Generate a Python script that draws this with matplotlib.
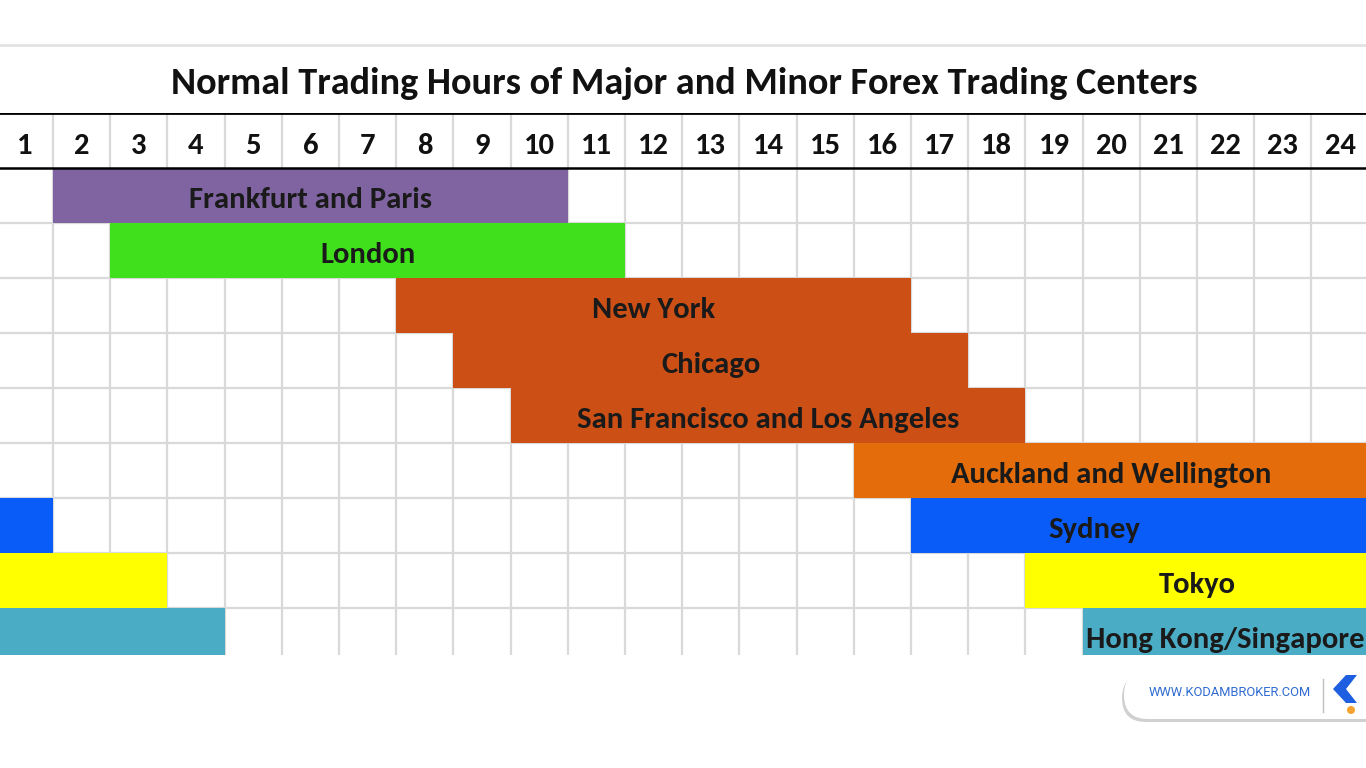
import matplotlib
matplotlib.use("Agg")
import matplotlib.pyplot as plt
from matplotlib import font_manager
from matplotlib.patches import FancyBboxPatch, Polygon, Circle

# trading centres, opening / closing hour (columns 1..24), closing may wrap past 24
centers = ["Frankfurt and Paris", "London", "New York", "Chicago",
           "San Francisco and Los Angeles", "Auckland and Wellington",
           "Sydney", "Tokyo", "Hong Kong/Singapore"]
open_hour = [1, 2, 7, 8, 9, 15, 16, 18, 19]
close_hour = [10, 11, 16, 17, 18, 24, 1, 3, 4]
colors = ["#8064A2", "#40E01C", "#CC5016", "#CC5016", "#CC5016",
          "#E46C0A", "#0A5CF8", "#FFFF00", "#4BACC6"]
hours = list(range(1, 25))
title = "Normal Trading Hours of Major and Minor Forex Trading Centers"

names = {f.name for f in font_manager.fontManager.ttflist}
font = "Liberation Sans"
for cand in ["Carlito", "Fira Sans Condensed", "Barlow Semi Condensed"]:
    if cand in names:
        font = cand
        break

W, H = 1366, 768
fig = plt.figure(figsize=(W / 100, H / 100), dpi=100)
fig.patch.set_facecolor("white")

col_w = 57.2
top, bottom, row_h = 113, 655, 55
ax = fig.add_axes([0, (H - bottom) / H, 1, (bottom - top) / H])
ax.set_xlim(1 - 53 / col_w, 1 + (W - 53) / col_w)
ax.set_ylim((bottom - top) / row_h, 0)
ax.axis("off")

# grid
for k in range(0, 25):
    ax.axvline(k, color="#D9D9D9", lw=1.6, zorder=0)
for r in range(2, 11):
    ax.axhline(r, color="#D9D9D9", lw=1.6, zorder=0)
ax.axhline(0, color="black", lw=2, zorder=3)
ax.axhline(1, color="black", lw=1.8, zorder=3)

renderer = fig.canvas.get_renderer()


def fit(t, width_px):
    w = t.get_window_extent(renderer).width
    t.set_fontsize(t.get_fontsize() * width_px / w)


# header numbers
probe = ax.text(0, 0, "24", fontsize=20, fontweight="bold", family=font)
fit(probe, 31)
hsize = probe.get_fontsize()
probe.remove()
for h in hours:
    ax.text(h - 0.5, 0.6, str(h), ha="center", va="center", fontsize=hsize,
            fontweight="bold", family=font, color="#111111")

# bars
label_shift = {"Sydney": -0.8}
lab_size = None
for i, name in enumerate(centers):
    row = i + 1
    o, c = open_hour[i], close_hour[i]
    if c > o:
        segs = [(o, c - o)]
        mid = (o + c) / 2
    else:
        segs = [(o, 24 - o), (0, c)]
        mid = (o + 24) / 2
    ax.broken_barh(segs, (row, 1), facecolors=colors[i], zorder=1)
    t = ax.text(mid + label_shift.get(name, 0), row + 0.58, name, ha="center",
                va="center", fontsize=20, fontweight="bold", family=font,
                color="#1A1A1A", zorder=4)
    if name == "San Francisco and Los Angeles":
        fit(t, 382)
        lab_size = t.get_fontsize()
for t in ax.texts[len(hours):]:
    t.set_fontsize(lab_size)

# overlay in pixel coordinates for title and watermark
ov = fig.add_axes([0, 0, 1, 1], zorder=5)
ov.set_xlim(0, W)
ov.set_ylim(H, 0)
ov.axis("off")
ov.patch.set_alpha(0)
ov.plot([0, W], [45, 45], color="#E3E3E3", lw=2)
tt = ov.text(684, 84, title, ha="center", va="center", fontsize=30,
             fontweight="bold", family=font, color="#111111")
fit(tt, 1024)

ov.add_patch(FancyBboxPatch((1122, 674), 300, 48,
                            boxstyle="round,pad=0,rounding_size=24",
                            fc="#D0D0D0", ec="none"))
ov.add_patch(FancyBboxPatch((1124, 671), 300, 48,
                            boxstyle="round,pad=0,rounding_size=24",
                            fc="white", ec="none"))
wt = ov.text(1229.5, 693, "WWW.KODAMBROKER.COM", ha="center", va="center",
             fontsize=9, family="Roboto", color="#2F6BD0")
fit(wt, 163)
ov.plot([1323, 1323], [679, 712], color="#C0C0C0", lw=1)
ov.add_patch(Polygon([(1346, 675), (1357, 675), (1346, 689), (1357, 703),
                      (1346, 703), (1333, 689)], closed=True, fc="#1D5FE0", ec="none"))
ov.add_patch(Circle((1351, 710), 4, fc="#F5A233", ec="none"))

fig.savefig("out.png", dpi=100)
